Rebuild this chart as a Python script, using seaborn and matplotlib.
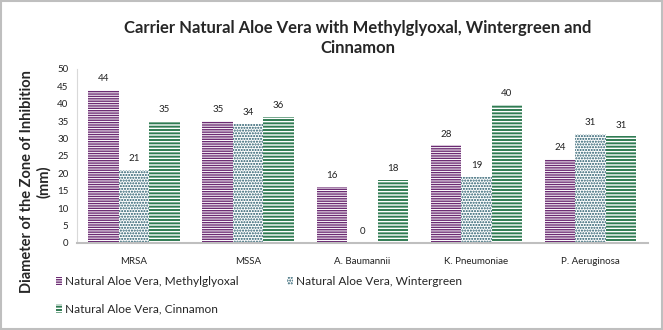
import matplotlib
matplotlib.use("Agg")
import matplotlib.pyplot as plt
import seaborn as sns
import pandas as pd
from matplotlib.patches import Rectangle

categories = ["MRSA", "MSSA", "A. Baumannii", "K. Pneumoniae", "P. Aeruginosa"]
series_names = ["Natural Aloe Vera, Methylglyoxal",
                "Natural Aloe Vera, Wintergreen",
                "Natural Aloe Vera, Cinnamon"]
methylglyoxal = [44.0, 35.0, 16.0, 28.0, 24.0]
wintergreen = [21.0, 34.3, 0.0, 19.0, 31.2]
cinnamon = [35.0, 36.2, 18.0, 39.7, 30.6]
yticks = list(range(0, 51, 5))

sns.set_theme(style="white")
plt.rcParams["font.family"] = ["Lato", "DejaVu Sans"]
plt.rcParams["hatch.linewidth"] = 1.0

rows = []
for name, vals in zip(series_names, [methylglyoxal, wintergreen, cinnamon]):
    for c, v in zip(categories, vals):
        rows.append({"Organism": c, "Series": name, "Value": v})
df = pd.DataFrame(rows)

purple = "#6B2A72"
teal = "#1E5566"
green = "#2F7B52"
styles = {
    series_names[0]: dict(face="white", edge=purple, hatch="-------"),
    series_names[1]: dict(face="white", edge=teal, hatch="......"),
    series_names[2]: dict(face=green, edge="white", hatch="-----"),
}

fig = plt.figure(figsize=(6.63, 3.30), dpi=100)
ax = fig.add_axes([0.116, 0.264, 0.861, 0.527])

sns.barplot(data=df, x="Organism", y="Value", hue="Series", order=categories,
            hue_order=series_names, width=0.8, ax=ax, legend=False,
            palette=[purple, teal, green], saturation=1, errorbar=None)

for container, name in zip(ax.containers, series_names):
    st = styles[name]
    for p in container:
        p.set_facecolor(st["face"])
        p.set_edgecolor(st["edge"])
        p.set_hatch(st["hatch"])
        p.set_linewidth(0)
    ax.bar_label(container, labels=[f"{v:.0f}" for v in container.datavalues],
                 padding=5, fontsize=7, color="#222222")

ax.set_ylim(0, 50)
ax.set_yticks(yticks)
ax.tick_params(axis="both", labelsize=7, colors="#222222", length=0, pad=6)
ax.set_xlabel("")
ax.set_ylabel("")
for s in ["top", "right"]:
    ax.spines[s].set_visible(False)
ax.spines["left"].set_color("#d9d9d9")
ax.spines["left"].set_linewidth(0.8)
ax.spines["bottom"].set_color("#bfbfbf")
ax.spines["bottom"].set_linewidth(1.5)
ax.tick_params(axis="x", pad=10)

fig.text(0.54, 0.885, "Carrier Natural Aloe Vera with Methylglyoxal, Wintergreen and\nCinnamon",
         ha="center", va="center", fontsize=12, fontweight="bold", linespacing=1.35)
fig.text(0.054, 0.45, "Diameter of the Zone of Inhibition\n(mm)", ha="center", va="center",
         rotation=90, fontsize=10.5, fontweight="bold", linespacing=1.25)

order = [0, 2, 1]
handles = [Rectangle((0, 0), 1, 1, facecolor=styles[series_names[i]]["face"],
                     edgecolor=styles[series_names[i]]["edge"],
                     hatch=styles[series_names[i]]["hatch"], linewidth=0) for i in order]
labels = [series_names[i] for i in order]
fig.legend(handles, labels, loc="upper left", bbox_to_anchor=(0.068, 0.195), ncol=2,
           frameon=False, fontsize=8.6, handlelength=0.5, handleheight=0.7,
           handletextpad=0.3, columnspacing=4.0, labelspacing=1.35)

fig.add_artist(Rectangle((0.002, 0.003), 0.996, 0.994, transform=fig.transFigure,
                         fill=False, edgecolor="#bfbfbf", linewidth=1.5))

fig.savefig("out.png", dpi=100)
